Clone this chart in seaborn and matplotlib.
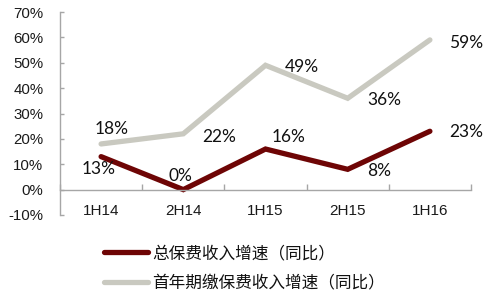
import matplotlib
matplotlib.use("Agg")
import matplotlib.pyplot as plt
import seaborn as sns
import pandas as pd
from matplotlib.ticker import FixedLocator, FuncFormatter
from matplotlib.lines import Line2D

periods = ["1H14", "2H14", "1H15", "2H15", "1H16"]
total_growth = [13, 0, 16, 8, 23]
first_year_growth = [18, 22, 49, 36, 59]
series_names = ["总保费收入增速（同比）", "首年期缴保费收入增速（同比）"]
y_ticks = [-10, 0, 10, 20, 30, 40, 50, 60, 70]

df = pd.DataFrame({
    "period": periods * 2,
    "x": list(range(len(periods))) * 2,
    "value": total_growth + first_year_growth,
    "series": [series_names[0]] * len(periods) + [series_names[1]] * len(periods),
})

sns.set_theme(style="white")
plt.rcParams["font.family"] = ["Liberation Sans", "Noto Sans CJK SC", "DejaVu Sans"]

fig = plt.figure(figsize=(4.89, 2.95), dpi=100)
ax = fig.add_axes([60 / 489, 1 - 215 / 295, (471 - 60) / 489, (215 - 12) / 295])

colors = {series_names[0]: "#6e0505", series_names[1]: "#c9c9c0"}
sns.lineplot(data=df, x="x", y="value", hue="series", palette=colors, ax=ax,
             linewidth=3.8, legend=False, sort=False)
for ln in ax.get_lines():
    ln.set_solid_capstyle("round")
    ln.set_solid_joinstyle("miter")

ax.set_xlim(-0.5, len(periods) - 0.5)
ax.set_ylim(-10, 70)
ax.set_xlabel("")
ax.set_ylabel("")

for s in ["top", "right"]:
    ax.spines[s].set_visible(False)
spine_c = "#a6a6a6"
ax.spines["left"].set_color(spine_c)
ax.spines["bottom"].set_color(spine_c)
ax.spines["bottom"].set_position(("data", 0))
ax.spines["left"].set_linewidth(1.0)
ax.spines["bottom"].set_linewidth(1.0)

ax.yaxis.set_major_locator(FixedLocator(y_ticks))
ax.yaxis.set_major_formatter(FuncFormatter(lambda v, p: f"{int(v)}%"))
ax.tick_params(axis="y", direction="in", length=3, width=1, color=spine_c,
               labelsize=10.8, labelcolor="#1a1a1a", pad=12, left=True)

ax.xaxis.set_major_locator(FixedLocator([i - 0.5 for i in range(len(periods) + 1)]))
ax.xaxis.set_major_formatter(FuncFormatter(lambda v, p: ""))
ax.xaxis.set_minor_locator(FixedLocator(list(range(len(periods)))))
ax.set_xticklabels(periods, minor=True)
ax.tick_params(axis="x", which="major", direction="in", length=4, width=1,
               color=spine_c, bottom=True)
ax.tick_params(axis="x", which="minor", length=0, labelsize=11,
               labelcolor="#1a1a1a", pad=10, bottom=True)
ax.grid(False)

# data labels (pixel offsets)
off_total = [(-2, -12), (-3, 14), (23, 12), (31, -2), (36, -1)]
off_first = [(11, 15), (36, -3), (36, -2), (37, -2), (36, -3)]
lab_font = dict(fontsize=12.5, family="Lato", color="#111111", ha="center", va="center")
for i, v in enumerate(total_growth):
    ax.annotate(f"{v}%", (i, v), xytext=(off_total[i][0] * 0.72, off_total[i][1] * 0.72),
                textcoords="offset points", **lab_font)
for i, v in enumerate(first_year_growth):
    ax.annotate(f"{v}%", (i, v), xytext=(off_first[i][0] * 0.72, off_first[i][1] * 0.72),
                textcoords="offset points", **lab_font)

# legend
handles = [Line2D([0], [0], color=colors[n], linewidth=3.8, solid_capstyle="round")
           for n in series_names]
leg = fig.legend(handles, series_names, loc="upper left",
                 bbox_to_anchor=(104 / 489, 1 - 245 / 295), frameon=False,
                 prop={"family": ["Noto Sans CJK SC", "DejaVu Sans"], "size": 12},
                 handlelength=2.65, handletextpad=0.25, labelspacing=0.75,
                 borderpad=0, borderaxespad=0)
for t in leg.get_texts():
    t.set_color("#111111")

fig.savefig("out.png", dpi=100)
